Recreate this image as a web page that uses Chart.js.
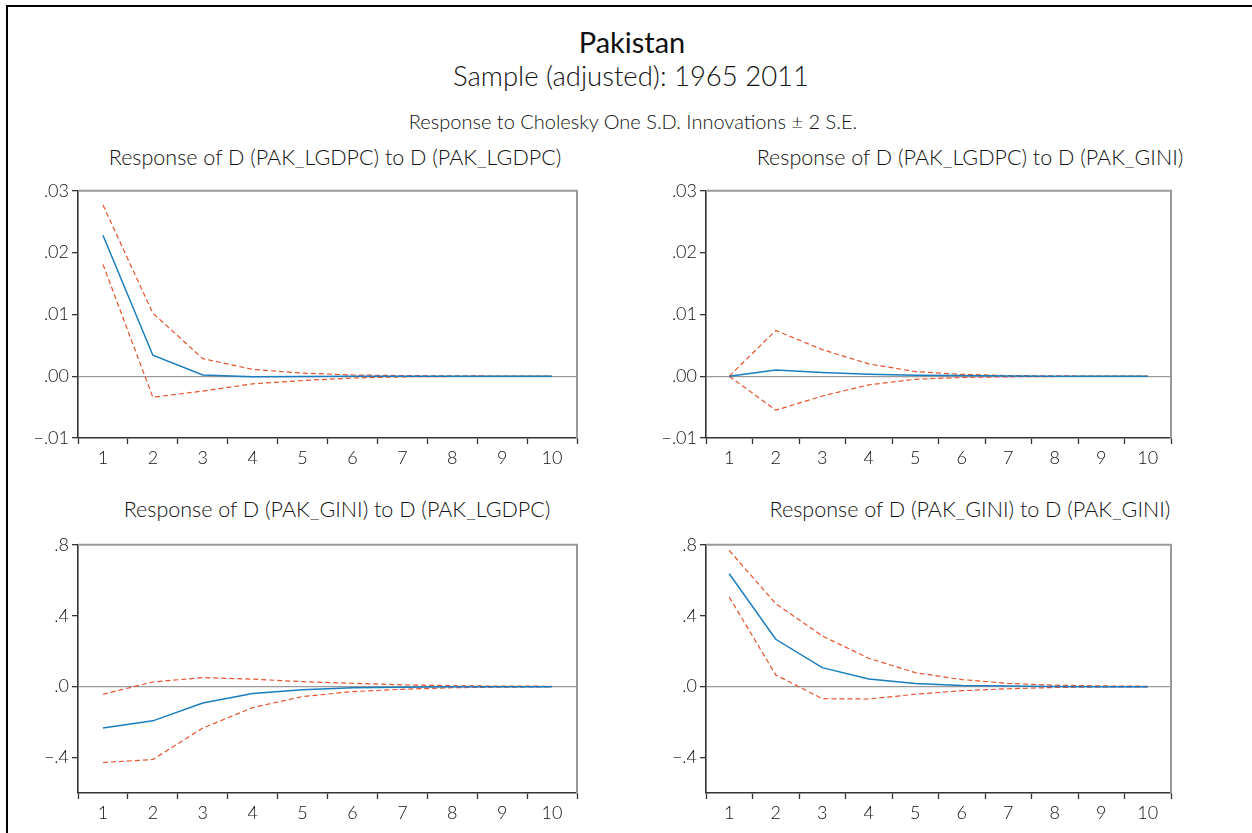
<!DOCTYPE html>
<html>
<head>
<meta charset="utf-8">
<script src="https://cdn.jsdelivr.net/npm/chart.js@4"></script>
<style>
    body { margin: 0; background: #fff; }
    #page { position: relative; width: 1252px; height: 833px; overflow: hidden; font-family: Lato, "Open Sans", sans-serif; font-weight: 300; color: #111; }
    #frame { position: absolute; left: 6px; top: 5px; width: 1260px; height: 900px; border-left: 2px solid #000; border-top: 2px solid #000; }
    .t { position: absolute; white-space: nowrap; transform: translate(-50%, -50%); }
    .box { position: absolute; }
</style>
</head>
<body>
<div id="page">
    <div id="frame"></div>
    <div class="t" style="left:632px; top:41px; font-size:29px; font-weight:400;">Pakistan</div>
    <div class="t" style="left:631px; top:75px; font-size:27.5px;">Sample (adjusted): 1965 2011</div>
    <div class="t" style="left:633px; top:121px; font-size:20px;">Response to Cholesky One S.D. Innovations ± 2 S.E.</div>

    <div class="t" style="left:335px; top:157px; font-size:21.5px;">Response of D (PAK_LGDPC) to D (PAK_LGDPC)</div>
    <div class="t" style="left:970px; top:157px; font-size:21.5px;">Response of D (PAK_LGDPC) to D (PAK_GINI)</div>
    <div class="t" style="left:337px; top:509px; font-size:21.5px;">Response of D (PAK_GINI) to D (PAK_LGDPC)</div>
    <div class="t" style="left:970px; top:509px; font-size:21.5px;">Response of D (PAK_GINI) to D (PAK_GINI)</div>

    <div class="box" id="box1"><canvas id="c1"></canvas></div>
    <div class="box" id="box2"><canvas id="c2"></canvas></div>
    <div class="box" id="box3"><canvas id="c3"></canvas></div>
    <div class="box" id="box4"><canvas id="c4"></canvas></div>
</div>
<script>
const PERIODS = ["1", "2", "3", "4", "5", "6", "7", "8", "9", "10"];

// response of lgdpc to lgdpc
const gdp_gdp = [0.0228, 0.0034, 0.0002, -0.0001, -0.00005, 0, 0, 0, 0, 0];
const gdp_gdp_up = [0.0277, 0.0102, 0.00285, 0.0011, 0.0005, 0.0002, 0.0001, 0.00005, 0.00003, 0.00002];
const gdp_gdp_lo = [0.0181, -0.0034, -0.0024, -0.00124, -0.0007, -0.0003, -0.0001, -0.00005, -0.00003, -0.00002];

// response of lgdpc to gini
const gdp_gini = [0, 0.001, 0.0006, 0.0003, 0.00015, 0.0001, 0.00005, 0, 0, 0];
const gdp_gini_up = [0, 0.0074, 0.0043, 0.002, 0.00075, 0.0003, 0.0001, 0.00005, 0.00002, 0.00001];
const gdp_gini_lo = [0, -0.0055, -0.0032, -0.0014, -0.0005, -0.0002, -0.0001, -0.00005, -0.00002, -0.00001];

// response of gini to lgdpc
const gini_gdp = [-0.234, -0.193, -0.092, -0.039, -0.017, -0.007, -0.003, -0.001, 0, 0];
const gini_gdp_up = [-0.043, 0.026, 0.051, 0.042, 0.028, 0.019, 0.01, 0.005, 0.003, 0.002];
const gini_gdp_lo = [-0.428, -0.411, -0.234, -0.118, -0.056, -0.028, -0.015, -0.006, -0.003, -0.001];

// response of gini to gini
const gini_gini = [0.637, 0.267, 0.107, 0.043, 0.017, 0.007, 0.003, 0.001, 0, 0];
const gini_gini_up = [0.768, 0.468, 0.286, 0.16, 0.079, 0.04, 0.018, 0.008, 0.004, 0.002];
const gini_gini_lo = [0.505, 0.066, -0.068, -0.07, -0.043, -0.023, -0.012, -0.005, -0.002, -0.001];

const TICKS_SMALL = [-0.01, 0, 0.01, 0.02, 0.03];
const TICKS_BIG = [-0.4, 0, 0.4, 0.8];

const BLUE = "#1a7dbf";
const RED = "#e8532b";
const PAD_L = 70, PAD_T = 12, PAD_R = 12, PAD_B = 40;
const TICK_FONT = { family: "Lato", size: 18, weight: 300 };

function fmt(v, digits) {
    let s = Math.abs(v).toFixed(digits).replace(/^0/, "");
    return v < -1e-9 ? "\u2212" + s : s;
}

// top and right sides of the plot box in gray
const boxPlugin = {
    id: "box",
    afterDraw(chart) {
        let a = chart.chartArea;
        let c = chart.ctx;
        c.save();
        c.strokeStyle = "#9a9a9a";
        c.lineWidth = 2;
        c.beginPath();
        c.moveTo(a.left, a.top);
        c.lineTo(a.right, a.top);
        c.lineTo(a.right, a.bottom);
        c.stroke();
        c.restore();
    }
};

function makeChart(id, boxId, rect, mid, up, lo, min, max, ticks, digits) {
    let box = document.getElementById(boxId);
    let w = rect.right - rect.left + PAD_L + PAD_R;
    let h = rect.bottom - rect.top + PAD_T + PAD_B;
    box.style.left = (rect.left - PAD_L) + "px";
    box.style.top = (rect.top - PAD_T) + "px";
    box.style.width = w + "px";
    box.style.height = h + "px";
    let dashed = (data) => ({
        data: data, borderColor: RED, borderWidth: 1.2, borderDash: [5, 3],
        pointRadius: 0, fill: false, tension: 0
    });
    return new Chart(document.getElementById(id), {
        type: "line",
        data: {
            labels: PERIODS,
            datasets: [
                { data: mid, borderColor: BLUE, borderWidth: 1.5, pointRadius: 0, fill: false, tension: 0 },
                dashed(up),
                dashed(lo),
            ]
        },
        options: {
            responsive: true,
            maintainAspectRatio: false,
            animation: false,
            layout: { padding: { top: PAD_T, right: PAD_R, left: 0, bottom: 0 } },
            plugins: { legend: { display: false }, tooltip: { enabled: false } },
            scales: {
                x: {
                    type: "category",
                    offset: true,
                    grid: { offset: true, drawOnChartArea: false, tickLength: 6, tickColor: "#333", tickWidth: 1.3 },
                    border: { color: "#333", width: 1.6 },
                    ticks: { color: "#111", font: TICK_FONT, padding: 3, maxRotation: 0, autoSkip: false },
                    afterFit: (s) => { s.height = PAD_B; }
                },
                y: {
                    min: min,
                    max: max,
                    afterBuildTicks: (s) => { s.ticks = ticks.map(v => ({ value: v })); },
                    grid: {
                        color: (ctx) => (ctx.tick && Math.abs(ctx.tick.value) < 1e-9) ? "#9a9a9a" : "rgba(0,0,0,0)",
                        lineWidth: 1.3,
                        tickLength: 6,
                        tickColor: "#333",
                        tickWidth: 1.3
                    },
                    border: { color: "#333", width: 1.6 },
                    ticks: {
                        color: "#111", font: TICK_FONT, padding: 3,
                        callback: (v) => fmt(v, digits)
                    },
                    afterFit: (s) => { s.width = PAD_L; }
                }
            }
        },
        plugins: [boxPlugin]
    });
}

makeChart("c1", "box1", { left: 78, right: 577, top: 189, bottom: 438 },
    gdp_gdp, gdp_gdp_up, gdp_gdp_lo, -0.01, 0.03, TICKS_SMALL, 2);
makeChart("c2", "box2", { left: 706, right: 1171, top: 189, bottom: 438 },
    gdp_gini, gdp_gini_up, gdp_gini_lo, -0.01, 0.03, TICKS_SMALL, 2);
makeChart("c3", "box3", { left: 78, right: 577, top: 543, bottom: 793 },
    gini_gdp, gini_gdp_up, gini_gdp_lo, -0.6, 0.8, TICKS_BIG, 1);
makeChart("c4", "box4", { left: 706, right: 1171, top: 543, bottom: 793 },
    gini_gini, gini_gini_up, gini_gini_lo, -0.6, 0.8, TICKS_BIG, 1);
</script>
</body>
</html>
